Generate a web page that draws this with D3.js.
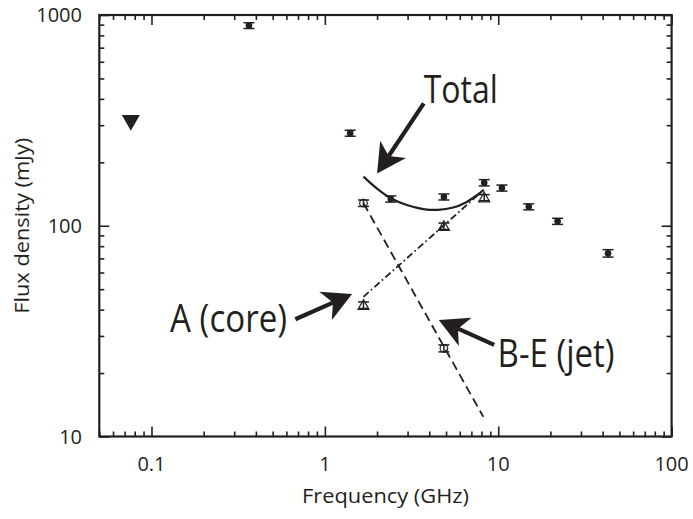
<!DOCTYPE html>
<html>
<head>
<meta charset="utf-8">
<script src="https://cdn.jsdelivr.net/npm/d3@7"></script>
<style>
  html, body { margin: 0; padding: 0; background: #fff; }
  svg { display: block; }
  text { font-family: "Open Sans", "Noto Sans", sans-serif; fill: #231f20; }
</style>
</head>
<body>
<svg id="chart" width="693" height="519"></svg>
<script>
// Observed spectrum (filled circles with error bars), GHz / mJy
const freqObs = [0.365, 1.4, 2.4, 4.86, 8.3, 10.5, 15, 22, 43];
const fluxObs = [891, 275, 134, 137, 160, 151, 123, 105, 74];
const errObs  = [28, 9, 4.5, 4.5, 5.5, 5, 4, 3.5, 3];

// Upper limit at low frequency
const freqLimit = [0.076];
const fluxLimit = [310];

// Component A (core): open triangles
const freqCore = [1.67, 4.86, 8.3];
const fluxCore = [42, 99.5, 136];
const errCore  = [1.5, 3.5, 4.5];

// Components B-E (jet): open circles
const freqJet = [1.67, 4.86];
const fluxJet = [128, 26.2];
const errJet  = [4.5, 1.0];

// Power-law model lines
const coreModelFreq = [1.67, 8.25];
const coreModelFlux = [46, 148];
const jetModelFreq  = [1.67, 8.2];
const jetModelFlux  = [128, 12.4];

// Total model curve
const totalFreq = [1.67, 2.0, 2.4, 3.0, 3.7, 4.5, 5.5, 6.5, 7.4, 8.25];
const totalFlux = [171, 150, 135, 125, 120, 119, 122, 129, 138, 148];

// Axis ticks
const xMajor = [0.1, 1, 10, 100];
const xMajorLabels = ["0.1", "1", "10", "100"];
const yMajor = [10, 100, 1000];
const yMajorLabels = ["10", "100", "1000"];

// Annotations (anchored in data units)
const annotations = [
  { text: "Total",     lx: 3.72,  ly: 384,  len: 74,  tail: [3.72, 381], tip: [2.0, 177] },
  { text: "A (core)",  lx: 0.128, ly: 31.4, len: 117, tail: [0.676, 36.0], tip: [1.436, 47.4] },
  { text: "B-E (jet)", lx: 9.91,  ly: 21.4, len: 117, tail: [9.48, 27.2], tip: [4.54, 35.7] }
];

const ink = "#231f20";
const svg = d3.select("#chart");
const L = 99.3, R = 671.6, T = 15, B = 436.5;

const x = d3.scaleLog().domain([0.05, 100]).range([L, R]);
const y = d3.scaleLog().domain([10, 1000]).range([B, T]);

// minor tick values across the domain
function logTicks(lo, hi) {
  const out = [];
  for (let e = Math.floor(Math.log10(lo)); e <= Math.ceil(Math.log10(hi)); e++) {
    for (let m = 1; m <= 9; m++) {
      const v = m * Math.pow(10, e);
      if (v >= lo * 0.999 && v <= hi * 1.001) out.push(v);
    }
  }
  return out;
}
const xAll = logTicks(0.05, 100);
const yAll = logTicks(10, 1000);
const isMajor = v => Math.abs(Math.log10(v) - Math.round(Math.log10(v))) < 1e-6;

function styleAxis(g) {
  g.select(".domain").remove();
  g.selectAll(".tick line").attr("stroke", ink).attr("stroke-width", 1.6);
  g.selectAll(".tick text").remove();
}

// inward ticks on all four sides
const axB = d3.axisBottom(x).tickValues(xAll).tickSizeInner(0).tickSizeOuter(0).tickFormat("");
const gB = svg.append("g").attr("transform", `translate(0,${B})`).call(axB);
gB.selectAll(".tick line").attr("y2", d => isMajor(d) ? -10 : -5);
styleAxis(gB);

const gTp = svg.append("g").attr("transform", `translate(0,${T})`).call(axB);
gTp.selectAll(".tick line").attr("y2", d => isMajor(d) ? 10 : 5);
styleAxis(gTp);

const axL = d3.axisLeft(y).tickValues(yAll).tickSizeInner(0).tickSizeOuter(0).tickFormat("");
const gL = svg.append("g").attr("transform", `translate(${L},0)`).call(axL);
gL.selectAll(".tick line").attr("x2", d => isMajor(d) ? 10 : 5);
styleAxis(gL);

const gR = svg.append("g").attr("transform", `translate(${R},0)`).call(axL);
gR.selectAll(".tick line").attr("x2", d => isMajor(d) ? -10 : -5);
styleAxis(gR);

// frame
svg.append("rect").attr("x", L).attr("y", T).attr("width", R - L).attr("height", B - T)
  .attr("fill", "none").attr("stroke", ink).attr("stroke-width", 2.2);

// tick labels
svg.append("g").selectAll("text").data(xMajor).join("text")
  .attr("x", d => x(d)).attr("y", 471).attr("text-anchor", "middle")
  .attr("font-size", 20).text((d, i) => xMajorLabels[i]);
svg.append("g").selectAll("text").data(yMajor).join("text")
  .attr("x", 82).attr("y", d => y(d)).attr("dy", "0.36em").attr("text-anchor", "end")
  .attr("font-size", 20).text((d, i) => yMajorLabels[i]);

// axis titles
svg.append("text").attr("x", (L + R) / 2).attr("y", 503).attr("text-anchor", "middle")
  .attr("font-size", 20).attr("textLength", 167).attr("lengthAdjust", "spacingAndGlyphs")
  .text("Frequency (GHz)");
svg.append("text").attr("transform", `translate(28.5,${(T + B) / 2}) rotate(-90)`)
  .attr("text-anchor", "middle").attr("font-size", 20)
  .attr("textLength", 176).attr("lengthAdjust", "spacingAndGlyphs")
  .text("Flux density (mJy)");

// model lines
const lineFn = d3.line().x(d => x(d[0])).y(d => y(d[1]));
svg.append("path").datum(d3.zip(jetModelFreq, jetModelFlux)).attr("d", lineFn)
  .attr("fill", "none").attr("stroke", ink).attr("stroke-width", 1.8)
  .attr("stroke-dasharray", "9,5");
svg.append("path").datum(d3.zip(coreModelFreq, coreModelFlux)).attr("d", lineFn)
  .attr("fill", "none").attr("stroke", ink).attr("stroke-width", 1.8)
  .attr("stroke-dasharray", "7,3,1.6,3");
svg.append("path").datum(d3.zip(totalFreq, totalFlux))
  .attr("d", d3.line().x(d => x(d[0])).y(d => y(d[1])).curve(d3.curveCatmullRom))
  .attr("fill", "none").attr("stroke", ink).attr("stroke-width", 2.2);

// error bars
function errorBars(fs, vs, es) {
  const g = svg.append("g").attr("stroke", ink).attr("stroke-width", 1.5);
  fs.forEach((f, i) => {
    const cx = x(f), y1 = y(vs[i] + es[i]), y0 = y(vs[i] - es[i]);
    g.append("line").attr("x1", cx).attr("x2", cx).attr("y1", y1).attr("y2", y0);
    g.append("line").attr("x1", cx - 5.5).attr("x2", cx + 5.5).attr("y1", y1).attr("y2", y1);
    g.append("line").attr("x1", cx - 5.5).attr("x2", cx + 5.5).attr("y1", y0).attr("y2", y0);
  });
}
errorBars(freqObs, fluxObs, errObs);
errorBars(freqCore, fluxCore, errCore);
errorBars(freqJet, fluxJet, errJet);

// observed points
svg.append("g").selectAll("circle").data(d3.zip(freqObs, fluxObs)).join("circle")
  .attr("cx", d => x(d[0])).attr("cy", d => y(d[1])).attr("r", 3.3).attr("fill", ink);

// core (open triangles)
svg.append("g").selectAll("path").data(d3.zip(freqCore, fluxCore)).join("path")
  .attr("transform", d => `translate(${x(d[0])},${y(d[1])})`)
  .attr("d", "M0,-5.5L5.5,4.2L-5.5,4.2Z")
  .attr("fill", "none").attr("stroke", ink).attr("stroke-width", 1.2);

// jet (open circles)
svg.append("g").selectAll("circle").data(d3.zip(freqJet, fluxJet)).join("circle")
  .attr("cx", d => x(d[0])).attr("cy", d => y(d[1])).attr("r", 3.8)
  .attr("fill", "none").attr("stroke", ink).attr("stroke-width", 1.2);

// upper limit (filled down-triangle)
svg.append("g").selectAll("path").data(d3.zip(freqLimit, fluxLimit)).join("path")
  .attr("transform", d => `translate(${x(d[0])},${y(d[1])})`)
  .attr("d", "M-9,-7.2L9,-7.2L0,8.5Z").attr("fill", ink);

// annotation arrows and labels
annotations.forEach(a => {
  const x0 = x(a.tail[0]), y0 = y(a.tail[1]);
  const x1 = x(a.tip[0]),  y1 = y(a.tip[1]);
  const dx = x1 - x0, dy = y1 - y0, len = Math.hypot(dx, dy);
  const ux = dx / len, uy = dy / len, nx = -uy, ny = ux;
  const headL = 29, headW = 15.5, notch = 21;
  svg.append("line")
    .attr("x1", x0).attr("y1", y0)
    .attr("x2", x1 - ux * notch).attr("y2", y1 - uy * notch)
    .attr("stroke", ink).attr("stroke-width", 4.2);
  const pts = [
    [x1, y1],
    [x1 - ux * headL + nx * headW, y1 - uy * headL + ny * headW],
    [x1 - ux * notch, y1 - uy * notch],
    [x1 - ux * headL - nx * headW, y1 - uy * headL - ny * headW]
  ];
  svg.append("path").attr("d", "M" + pts.map(p => p.join(",")).join("L") + "Z").attr("fill", ink);
  svg.append("text").attr("x", x(a.lx)).attr("y", y(a.ly))
    .attr("font-size", 39).attr("textLength", a.len).attr("lengthAdjust", "spacingAndGlyphs")
    .text(a.text);
});
</script>
</body>
</html>
